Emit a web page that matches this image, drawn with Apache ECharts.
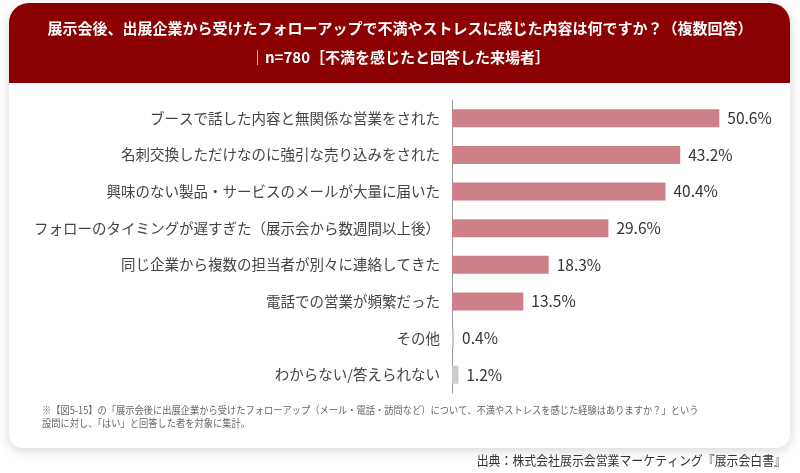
<!DOCTYPE html>
<html lang="ja">
<head>
    <meta charset="UTF-8">
    <title>展示会後のフォローアップで不満を感じた内容</title>
    <script src="https://cdn.jsdelivr.net/npm/echarts@6/dist/echarts.min.js"></script>
    <style>
        html, body { margin: 0; padding: 0; background: #fff; }
        #container { width: 800px; height: 473px; }
    </style>
</head>
<body>
<div id="container"></div>
<script>
    var categories = [
        'ブースで話した内容と無関係な営業をされた',
        '名刺交換しただけなのに強引な売り込みをされた',
        '興味のない製品・サービスのメールが大量に届いた',
        'フォローのタイミングが遅すぎた（展示会から数週間以上後）',
        '同じ企業から複数の担当者が別々に連絡してきた',
        '電話での営業が頻繁だった',
        'その他',
        'わからない/答えられない'
    ];
    var values = [50.6, 43.2, 40.4, 29.6, 18.3, 13.5, 0.4, 1.2];
    var titleLine1 = '展示会後、出展企業から受けたフォローアップで不満やストレスに感じた内容は何ですか？（複数回答）';
    var titleLine2 = 'n=780［不満を感じたと回答した来場者］';
    var noteText = '※【図5-15】の「展示会後に出展企業から受けたフォローアップ（メール・電話・訪問など）について、不満やストレスを感じた経験はありますか？」という\n設問に対し、「はい」と回答した者を対象に集計。';
    var sourceText = '出典：株式会社展示会営業マーケティング『展示会白書』';

    var font = '"Noto Sans CJK JP", "Noto Sans", sans-serif';
    var chart = echarts.init(document.getElementById('container'));

    var option = {
        animation: false,
        textStyle: { fontFamily: font },
        graphic: [
            {   // カード
                type: 'rect', z: 0,
                shape: { x: 9, y: 3, width: 781, height: 445, r: [20, 20, 14, 14] },
                style: { fill: '#fff', shadowBlur: 12, shadowColor: 'rgba(0,0,0,0.16)', shadowOffsetY: 3 }
            },
            {   // ヘッダー
                type: 'rect', z: 1,
                shape: { x: 9, y: 3, width: 781, height: 80, r: [20, 20, 0, 0] },
                style: { fill: '#8b0000' }
            },
            {
                type: 'text', z: 2, left: 'center', top: 21,
                style: { text: titleLine1, fill: '#fff', font: 'bold 15px ' + font }
            },
            {
                type: 'text', z: 2, left: 'center', top: 50,
                style: {
                    text: '{bar|｜}' + titleLine2,
                    fill: '#fff', font: 'bold 15px ' + font,
                    rich: { bar: { color: '#d9a0a0', fontSize: 15, fontWeight: 'normal', fontFamily: font } }
                }
            },
            {
                type: 'text', z: 2, x: 42, y: 404, scaleX: 0.925,
                style: { text: noteText, fill: '#666', font: '10px ' + font, lineHeight: 13 }
            },
            {
                type: 'text', z: 2, x: 786, y: 460, scaleX: 0.915,
                style: { text: sourceText, fill: '#333', font: '13px ' + font, align: 'right', verticalAlign: 'middle' }
            }
        ],
        grid: { left: 452, right: 31, top: 100, bottom: 80 },
        xAxis: {
            type: 'value', min: 0, max: 60,
            show: false
        },
        yAxis: {
            type: 'category',
            data: categories,
            inverse: true,
            axisLine: { show: true, lineStyle: { color: '#999', width: 1 } },
            axisTick: { show: false },
            axisLabel: { color: '#444', fontSize: 14.5, margin: 12, fontFamily: font }
        },
        series: [{
            type: 'bar',
            data: values,
            barWidth: 18,
            z: 3,
            itemStyle: {
                color: function (p) { return p.dataIndex < 6 ? '#cd8088' : '#cccccc'; }
            },
            label: {
                show: true,
                position: 'right',
                distance: 8,
                formatter: '{c}%',
                color: '#333',
                fontSize: 15.5,
                fontWeight: 'normal',
                fontFamily: font
            }
        }]
    };
    chart.setOption(option);
</script>
</body>
</html>
